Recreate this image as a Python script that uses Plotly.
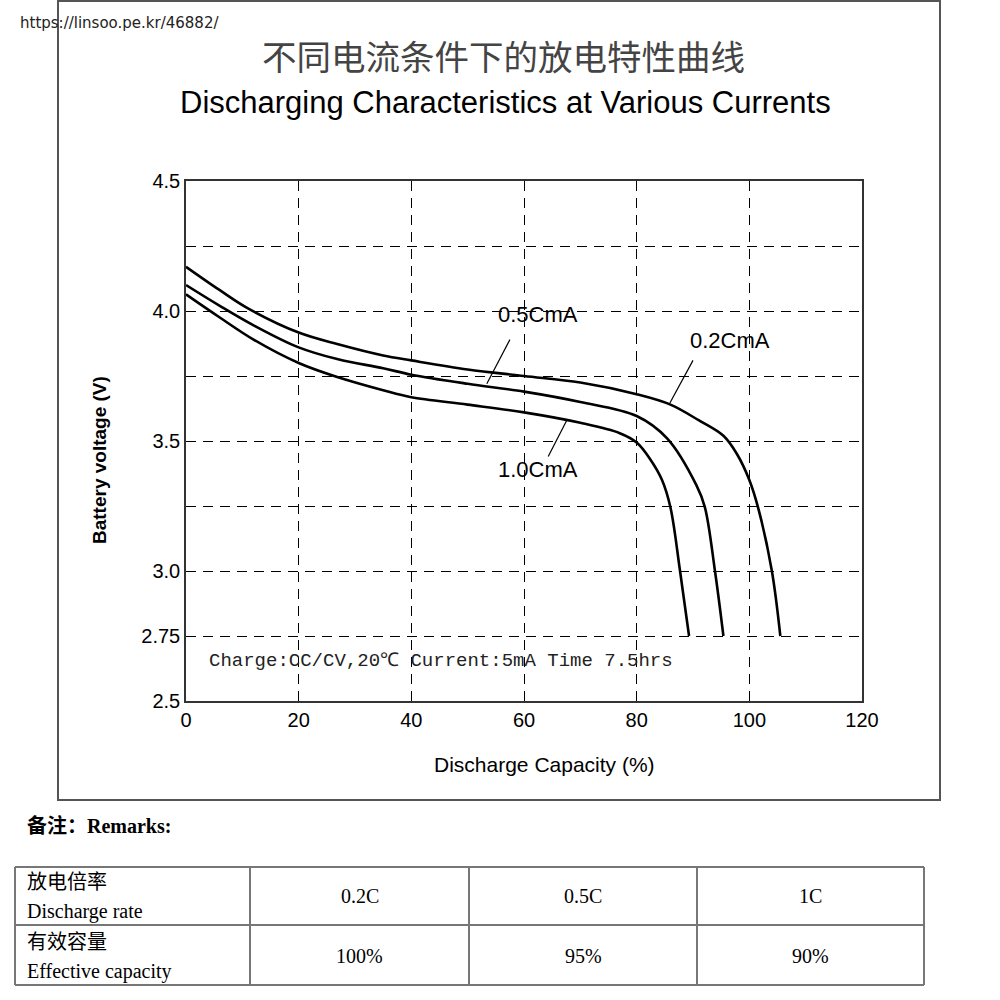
import plotly.graph_objects as go

# ---- data ----
cap_02 = [0, 6, 11, 20, 27, 35, 40, 50, 60, 70, 80, 86, 91, 95.4, 97.8, 100, 101.6, 104, 105.5]
v_02 = [4.17, 4.08, 4.01, 3.917, 3.872, 3.829, 3.81, 3.775, 3.75, 3.725, 3.68, 3.64, 3.58, 3.52, 3.45, 3.35, 3.24, 3.0, 2.75]

cap_05 = [0, 6, 12, 20, 27, 35, 40, 50, 60, 70, 80, 85.4, 90.6, 92.1, 93.9, 95.4]
v_05 = [4.10, 4.02, 3.945, 3.86, 3.814, 3.78, 3.755, 3.72, 3.69, 3.65, 3.596, 3.51, 3.33, 3.246, 3.0, 2.75]

cap_10 = [0, 6, 12, 20, 27, 35, 40, 50, 60, 70, 77, 80, 82.4, 84.5, 86, 87.7, 89.3]
v_10 = [4.064, 3.975, 3.89, 3.80, 3.745, 3.695, 3.668, 3.64, 3.61, 3.57, 3.53, 3.494, 3.43, 3.35, 3.244, 3.0, 2.75]

series_names = ["0.2CmA", "0.5CmA", "1.0CmA"]

lead_02_x = [90.0, 85.9]
lead_02_v = [3.81, 3.646]
lead_05_x = [57.5, 53.4]
lead_05_v = [3.89, 3.72]
lead_10_x = [64.3, 67.6]
lead_10_v = [3.44, 3.58]

y_tickvals = [2.5, 2.75, 3.0, 3.25, 3.5, 3.75, 4.0, 4.25, 4.5]
y_ticktext = ["2.5", "2.75", "3.0", "", "3.5", "", "4.0", "", "4.5"]
x_tickvals = [0, 20, 40, 60, 80, 100, 120]

table_header = ["放电倍率", "Discharge rate"]
table_row2 = ["有效容量", "Effective capacity"]
rates = ["0.2C", "0.5C", "1C"]
capacities = ["100%", "95%", "90%"]

title_cn = "不同电流条件下的放电特性曲线"
title_en = "Discharging Characteristics at Various Currents"
note = "Charge:CC/CV,20℃ Current:5mA Time 7.5hrs"

# ---- figure ----
fig = go.Figure()

curve_line = dict(color="black", width=2.6, shape="spline", smoothing=1.0)
for xs, ys, nm in [(cap_02, v_02, series_names[0]), (cap_05, v_05, series_names[1]), (cap_10, v_10, series_names[2])]:
    fig.add_trace(go.Scatter(x=xs, y=ys, mode="lines", name=nm, line=curve_line, showlegend=False))

for xs, ys in [(lead_02_x, lead_02_v), (lead_05_x, lead_05_v), (lead_10_x, lead_10_v)]:
    fig.add_trace(go.Scatter(x=xs, y=ys, mode="lines", line=dict(color="black", width=1.2),
                             showlegend=False, hoverinfo="skip"))

def P(px):  # pixel x -> paper
    return px / 1000.0

def Q(py):  # pixel y -> paper
    return 1 - py / 1000.0

annotations = []

def txt(x, y, text, font, xref="paper", yref="paper", xanchor="center", **kw):
    annotations.append(dict(x=x, y=y, xref=xref, yref=yref, text=text, showarrow=False,
                            xanchor=xanchor, yanchor="middle", font=font, **kw))

lab_font = dict(family="Liberation Sans, Arial", size=22, color="black")
txt(62.5, 3.985, series_names[1], lab_font, xref="x", yref="y")
txt(96.6, 3.888, series_names[0], lab_font, xref="x", yref="y")
txt(62.5, 3.39, series_names[2], lab_font, xref="x", yref="y")
txt(3.7, 2.654, note, dict(family="Liberation Mono, monospace", size=19, color="#222"),
    xref="x", yref="y", xanchor="left")

txt(P(503), Q(55), title_cn, dict(family="Noto Sans CJK SC", size=34.5, color="#444"))
txt(P(505), Q(103), title_en, dict(family="Liberation Sans, Arial", size=31, color="black"))
txt(P(544), Q(764), "Discharge Capacity (%)", dict(family="Liberation Sans, Arial", size=21, color="black"))
txt(P(100), Q(460), "<b>Battery voltage (V)</b>", dict(family="Liberation Sans, Arial", size=19, color="black"),
    textangle=-90)
txt(P(18), Q(23), "https://linsoo.pe.kr/46882/", dict(family="DejaVu Sans", size=15, color="#222"),
    xanchor="left")
txt(P(25), Q(826), "<b>备注：Remarks:</b>", dict(family="Liberation Serif, Noto Sans CJK SC", size=20, color="black"),
    xanchor="left")

tbl_font = dict(family="Liberation Serif, Noto Sans CJK SC", size=20, color="black")
col_x = [15, 250, 469, 697, 924]
row_y = [867, 925, 985]
txt(P(25), Q(882), table_header[0], tbl_font, xanchor="left")
txt(P(25), Q(911), table_header[1], tbl_font, xanchor="left")
txt(P(25), Q(942), table_row2[0], tbl_font, xanchor="left")
txt(P(25), Q(971), table_row2[1], tbl_font, xanchor="left")
for i in range(3):
    cx = (col_x[i + 1] + col_x[i + 2]) / 2
    txt(P(cx), Q(896), rates[i], tbl_font)
    txt(P(cx), Q(956), capacities[i], tbl_font)

shapes = []
shapes.append(dict(type="rect", xref="paper", yref="paper", x0=P(58), x1=P(940), y0=Q(800), y1=Q(1),
                   line=dict(color="#555", width=2)))
tbl_line = dict(color="#777", width=2)
for ry in row_y:
    shapes.append(dict(type="line", xref="paper", yref="paper", x0=P(col_x[0]), x1=P(col_x[-1]),
                       y0=Q(ry), y1=Q(ry), line=tbl_line))
for cxp in col_x:
    shapes.append(dict(type="line", xref="paper", yref="paper", x0=P(cxp), x1=P(cxp),
                       y0=Q(row_y[0]), y1=Q(row_y[-1]), line=tbl_line))

fig.update_layout(
    template="none",
    width=1000, height=1000,
    margin=dict(l=0, r=0, t=0, b=0),
    paper_bgcolor="white", plot_bgcolor="white",
    showlegend=False,
    annotations=annotations,
    shapes=shapes,
    xaxis=dict(domain=[P(186), P(862)], range=[0, 120], tickvals=x_tickvals,
               showgrid=True, gridcolor="black", gridwidth=1, griddash="10px,7px",
               showline=True, linecolor="#333", linewidth=1.5, mirror=True,
               ticks="", zeroline=False, automargin=False,
               tickfont=dict(family="Liberation Sans, Arial", size=20, color="black")),
    yaxis=dict(domain=[Q(701), Q(181)], range=[2.5, 4.5], tickvals=y_tickvals, ticktext=y_ticktext,
               showgrid=True, gridcolor="black", gridwidth=1, griddash="10px,7px",
               showline=True, linecolor="#333", linewidth=1.5, mirror=True,
               ticks="", zeroline=False, automargin=False,
               tickfont=dict(family="Liberation Sans, Arial", size=20, color="black")),
)

fig.write_html("out.html")
